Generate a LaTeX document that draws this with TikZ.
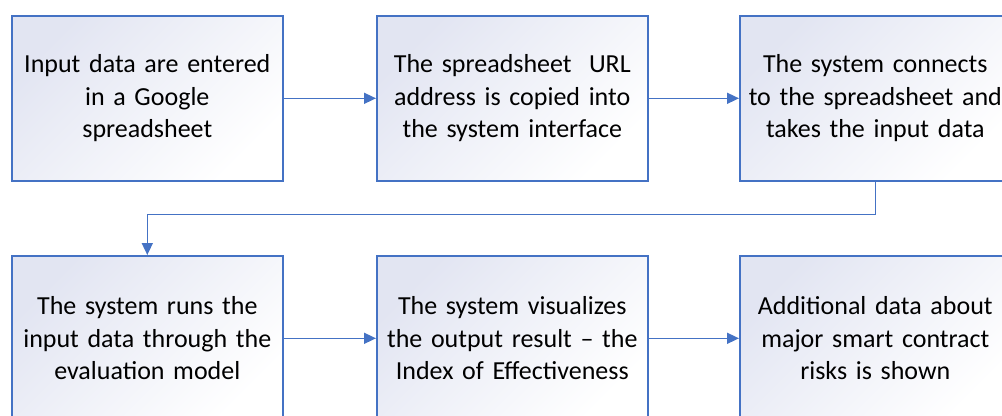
\documentclass[tikz,border=0pt]{standalone}
\usepackage{fontspec}
\setmainfont{Carlito}
\usetikzlibrary{arrows.meta}
\definecolor{edgeblue}{RGB}{68,114,196}
\definecolor{lav}{RGB}{226,229,242}
\tikzset{
  stepbox/.style={draw=edgeblue, line width=1.6bp, top color=lav, bottom color=white,
    shading angle=45, anchor=north west, minimum width=271bp, minimum height=165bp,
    inner sep=0pt, align=center, text width=265bp,
    font=\fontsize{26bp}{32.5bp}\selectfont, text=black},
  link/.style={draw=edgeblue, line width=1.6bp, -{Triangle[length=12bp,width=11bp]}}
}
\begin{document}
\begin{tikzpicture}[x=1bp,y=-1bp]
\useasboundingbox (0,0) rectangle (1002,415);
\clip (0,0) rectangle (1002,415);
\node[stepbox] (a) at (11,15) {Input data are entered\\in a Google\\spreadsheet};
\node[stepbox] (b) at (376,15) {The spreadsheet~ URL\\address is copied into\\the system interface};
\node[stepbox] (c) at (739,15) {The system connects\\to the spreadsheet and\\takes the input data};
\node[stepbox] (d) at (11,255) {The system runs the\\input data through the\\evaluation model};
\node[stepbox] (e) at (376,255) {The system visualizes\\the output result -- the\\Index of Effectiveness};
\node[stepbox] (f) at (739,255) {Additional data about\\major smart contract\\risks is shown};
\draw[link] (a.east) -- (b.west);
\draw[link] (b.east) -- (c.west);
\draw[link] (c.south) -- ++(0,33) -| (d.north);
\draw[link] (d.east) -- (e.west);
\draw[link] (e.east) -- (f.west);
\end{tikzpicture}
\end{document}
